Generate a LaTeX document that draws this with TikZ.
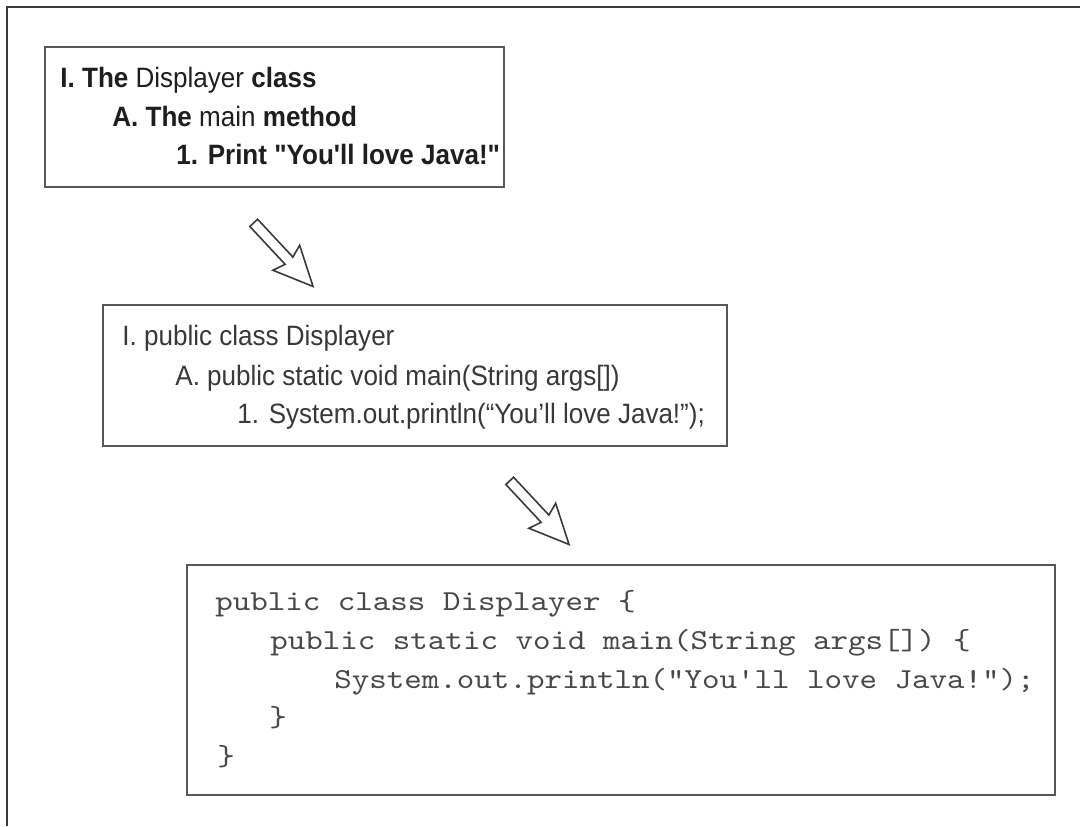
\documentclass[tikz,border=0pt]{standalone}
\usepackage{fontspec}
\setmainfont{Liberation Sans}[FakeStretch=0.93, Ligatures=TeXOff]
\newfontfamily\codefont{lmmono10-regular.otf}[FakeStretch=1.15]
\usetikzlibrary{shapes.arrows}
\definecolor{framegray}{HTML}{3A3A3A}
\definecolor{boxgray}{HTML}{585858}
\definecolor{inkdark}{HTML}{1E1E1E}
\definecolor{inksoft}{HTML}{383838}
\definecolor{codegray}{HTML}{484848}
\tikzset{
  frameline/.style={line width=1pt, draw=framegray},
  boxline/.style={line width=1.2pt, draw=boxgray},
  outlinetxt/.style={anchor=base west, inner sep=0pt, text=inkdark,
    font=\fontsize{14}{16}\selectfont},
  pseudotxt/.style={outlinetxt, text=inksoft},
  codetxt/.style={anchor=base west, inner sep=0pt, text=codegray,
    font=\codefont\fontsize{14.5}{17}\selectfont},
  hollowarrow/.style={single arrow, draw=framegray, line width=0.8pt,
    minimum height=43.5pt, inner sep=2.25pt, single arrow head extend=6.5pt,
    single arrow head indent=2pt, single arrow tip angle=50, rotate=-47}
}
\begin{document}
\begin{tikzpicture}[x=0.5pt, y=-0.5pt]
            \useasboundingbox (0,0) rectangle (1080,826);
            %cornice
            \draw[frameline] (1080,7) -- (7,7) -- (7,826);
            %riquadri
            \draw[boxline] (45,47) rectangle (504,187);
            \draw[boxline] (103,305) rectangle (727,446);
            \draw[boxline] (187,565) rectangle (1055,795);
            %schema
            \node[outlinetxt] (outA) at (60,87) {\bfseries I. The \mdseries Displayer \bfseries class};
            \node[outlinetxt] (outB) at (112,126) {\bfseries A. The \mdseries main \bfseries method};
            \node[outlinetxt] (outC) at (176,164) {\bfseries 1. Print "You'll love Java!"};
            %pseudocodice
            \node[pseudotxt] (pseA) at (122,345) {I. public class Displayer};
            \node[pseudotxt] (pseB) at (175,385) {A. public static void main(String args[])};
            \node[pseudotxt] (pseC) at (237,423) {1. System.out.println(“You’ll love Java!”);};
            %codice
            \node[codetxt] (codA) at (215,610) {public class Displayer \{};
            \node[codetxt] (codB) at (270,649) {public static void main(String args[]) \{};
            \node[codetxt] (codC) at (334,688) {System.out.println("You'll love Java!");};
            \node[codetxt] (codD) at (269,726) {\}};
            \node[codetxt] (codE) at (217,765) {\}};
            %frecce
            \node[hollowarrow] (arrPse) at (279.5,250.5) {};
            \node[hollowarrow] (arrCod) at (535.5,508.5) {};
        \end{tikzpicture}
\end{document}
